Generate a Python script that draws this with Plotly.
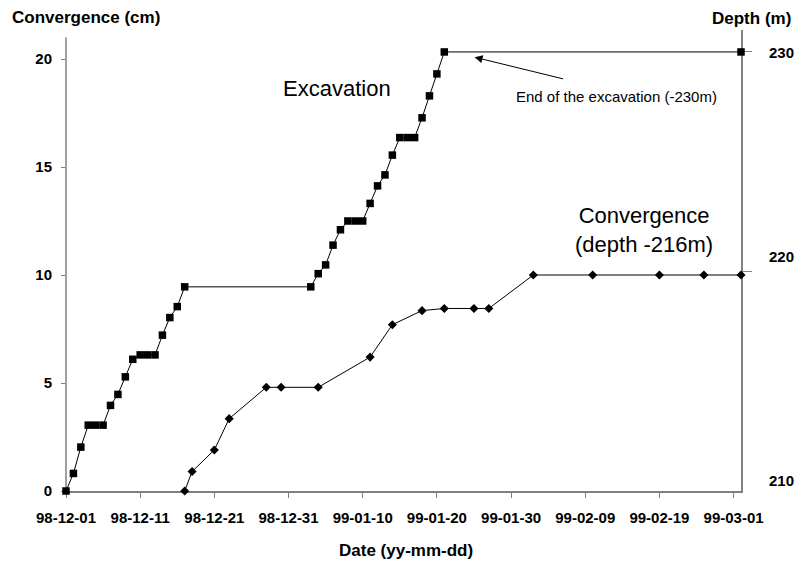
import plotly.graph_objects as go

# ---------------- data ----------------
exc_dates = ["1998-12-01", "1998-12-02", "1998-12-03", "1998-12-04", "1998-12-05", "1998-12-06",
             "1998-12-07", "1998-12-08", "1998-12-09", "1998-12-10", "1998-12-11", "1998-12-12",
             "1998-12-13", "1998-12-14", "1998-12-15", "1998-12-16", "1998-12-17",
             "1999-01-03", "1999-01-04", "1999-01-05", "1999-01-06", "1999-01-07", "1999-01-08",
             "1999-01-09", "1999-01-10", "1999-01-11", "1999-01-12", "1999-01-13", "1999-01-14",
             "1999-01-15", "1999-01-16", "1999-01-17", "1999-01-18", "1999-01-19", "1999-01-20",
             "1999-01-21", "1999-03-02"]
exc_depth = [210.0, 210.8, 212.0, 213.0, 213.0, 213.0, 213.9, 214.4, 215.2, 216.0, 216.2, 216.2,
             216.2, 217.1, 217.9, 218.4, 219.3,
             219.3, 219.9, 220.3, 221.2, 221.9, 222.3, 222.3, 222.3, 223.1, 223.9, 224.4, 225.3,
             226.1, 226.1, 226.1, 227.0, 228.0, 229.0, 230.0, 230.0]

conv_dates = ["1998-12-17", "1998-12-18", "1998-12-21", "1998-12-23", "1998-12-28", "1998-12-30",
              "1999-01-04", "1999-01-11", "1999-01-14", "1999-01-18", "1999-01-21", "1999-01-25",
              "1999-01-27", "1999-02-02", "1999-02-10", "1999-02-19", "1999-02-25", "1999-03-02"]
conv_cm = [0.0, 0.9, 1.9, 3.35, 4.8, 4.8, 4.8, 6.2, 7.7, 8.35, 8.45, 8.45, 8.45, 10.0, 10.0, 10.0,
           10.0, 10.0]

x_tick_dates = ["1998-12-01", "1998-12-11", "1998-12-21", "1998-12-31", "1999-01-10",
                "1999-01-20", "1999-01-30", "1999-02-09", "1999-02-19", "1999-03-01"]
x_tick_labels = ["98-12-01", "98-12-11", "98-12-21", "98-12-31", "99-01-10",
                 "99-01-20", "99-01-30", "99-02-09", "99-02-19", "99-03-01"]
conv_ticks = [0, 5, 10, 15, 20]
depth_ticks = [210, 220, 230]
depth_labels = ["210", "220", "230"]

# ---------------- layout helpers ----------------
OFF = 0                      # body margin is removed by post_script below
W, H = 795, 561
PL, PR, PT, PB = 66, 741, 30, 491   # plot area in page pixels
ML, MR, MT, MB = PL - OFF, W - (PR - OFF), PT - OFF, H - (PB - OFF)
PW, PH = W - ML - MR, H - MT - MB


def px(x):
    return (x - OFF - ML) / PW


def py(y):
    return (H - MB - (y - OFF)) / PH


FONT = "Liberation Sans, Arial, sans-serif"
AXC = "#808080"

fig = go.Figure()

fig.add_trace(go.Scatter(
    x=exc_dates, y=exc_depth, yaxis="y2", mode="lines+markers", name="Excavation",
    line=dict(color="black", width=1),
    marker=dict(symbol="square", size=7.5, color="black"),
    cliponaxis=False, showlegend=False))

fig.add_trace(go.Scatter(
    x=conv_dates, y=conv_cm, mode="lines+markers", name="Convergence",
    line=dict(color="black", width=1),
    marker=dict(symbol="diamond", size=7, color="black"),
    cliponaxis=False, showlegend=False))

annotations = [
    dict(text="<b>Convergence (cm)</b>", xref="paper", yref="paper", x=px(10), y=py(17),
         xanchor="left", yanchor="middle", showarrow=False, font=dict(size=17, color="black")),
    dict(text="<b>Depth (m)</b>", xref="paper", yref="paper", x=px(751), y=py(18),
         xanchor="center", yanchor="middle", showarrow=False, font=dict(size=17, color="black")),
    dict(text="<b>Date (yy-mm-dd)</b>", xref="paper", yref="paper", x=px(406), y=py(550),
         xanchor="center", yanchor="middle", showarrow=False, font=dict(size=17, color="black")),
    dict(text="Excavation", xref="paper", yref="paper", x=px(337), y=py(88),
         xanchor="center", yanchor="middle", showarrow=False, font=dict(size=22, color="black")),
    dict(text="Convergence<br>(depth -216m)", xref="paper", yref="paper", x=px(644), y=py(230),
         xanchor="center", yanchor="middle", showarrow=False, font=dict(size=22, color="black")),
    dict(text="End of the excavation (-230m)", xref="paper", yref="paper", x=px(616), y=py(96),
         xanchor="center", yanchor="middle", showarrow=False, font=dict(size=15, color="black")),
    dict(text="", x="1999-01-25 02:00", y=229.76, xref="x", yref="y2", showarrow=True,
         ax=90, ay=22, arrowhead=2, arrowsize=1.6, arrowwidth=1, arrowcolor="black", standoff=0),
]
shifts = {210: 11, 220: 15, 230: -1}
for v, lab in zip(depth_ticks, depth_labels):
    annotations.append(dict(text="<b>" + lab + "</b>", xref="paper", yref="y2", x=1, y=v,
                            xanchor="left", yanchor="middle", xshift=26, yshift=shifts[v],
                            showarrow=False, font=dict(size=15, color="black")))

fig.update_layout(
    width=W, height=H,
    margin=dict(l=ML, r=MR, t=MT, b=MB, pad=0),
    paper_bgcolor="white", plot_bgcolor="white",
    font=dict(family=FONT, color="black"),
    xaxis=dict(
        type="date", range=["1998-12-01", "1999-03-02"],
        tickvals=x_tick_dates, ticktext=["<b>" + t + "</b>" for t in x_tick_labels],
        tickfont=dict(size=15), ticks="outside", ticklen=5, tickcolor=AXC, tickwidth=1,
        showline=True, linecolor=AXC, linewidth=1.5, showgrid=False, zeroline=False,
        ticklabelstandoff=7, layer="below traces"),
    yaxis=dict(
        range=[0, PH / 21.6], tickvals=conv_ticks,
        ticktext=["<b>%d</b>" % v for v in conv_ticks], tickfont=dict(size=15),
        ticks="outside", ticklen=4, tickcolor=AXC, tickwidth=1,
        showline=False, showgrid=False, zeroline=False, ticklabelstandoff=6,
        layer="below traces"),
    yaxis2=dict(
        overlaying="y", side="right", range=[210, 231], tickvals=[220, 230],
        showticklabels=False, ticks="outside", ticklen=9, tickcolor=AXC, tickwidth=1,
        showline=True, linecolor=AXC, linewidth=1.5, showgrid=False, zeroline=False,
        layer="below traces"),
    annotations=annotations,
    shapes=[dict(type="line", xref="paper", yref="y", x0=0, x1=0, y0=0, y1=21,
                 layer="below", line=dict(color=AXC, width=1.5))],
)

fig.write_html(
    "out.html",
    config={"displayModeBar": False},
    post_script="document.body.style.margin='0';document.body.style.overflow='hidden';",
)
